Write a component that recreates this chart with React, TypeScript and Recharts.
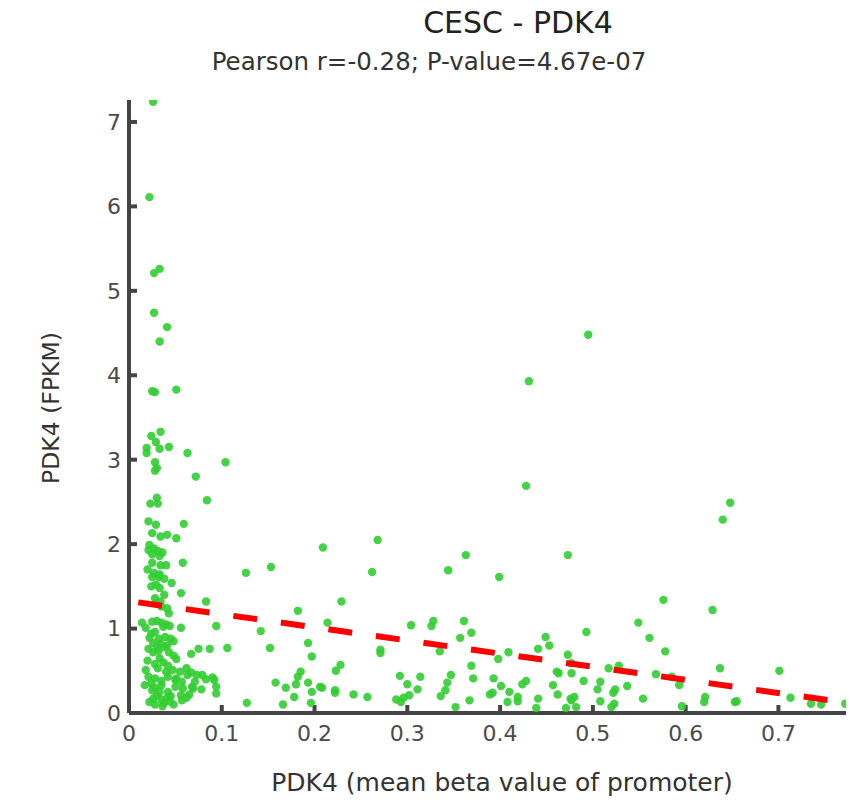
import { ScatterChart, Scatter, XAxis, YAxis } from "recharts";

const title = "CESC - PDK4";
const subtitle = "Pearson r=-0.28; P-value=4.67e-07";
const xLabel = "PDK4 (mean beta value of promoter)";
const yLabel = "PDK4 (FPKM)";

const xTicks = [0, 0.1, 0.2, 0.3, 0.4, 0.5, 0.6, 0.7];
const yTicks = [0, 1, 2, 3, 4, 5, 6, 7];

// [mean beta value, FPKM]
const leftTop = [
  [0.026, 7.24], [0.022, 6.11], [0.027, 5.21], [0.033, 5.26], [0.027, 4.74],
  [0.041, 4.57], [0.033, 4.4], [0.028, 3.8], [0.025, 3.81], [0.051, 3.83],
];

const leftMid = [
  [0.034, 3.33], [0.024, 3.28], [0.029, 3.21], [0.019, 3.14], [0.019, 3.08],
  [0.033, 3.13], [0.043, 3.15], [0.063, 3.08], [0.104, 2.97], [0.028, 2.97],
  [0.03, 2.9], [0.028, 2.87], [0.072, 2.8], [0.03, 2.55], [0.023, 2.48],
  [0.031, 2.48], [0.084, 2.52], [0.021, 2.27], [0.059, 2.24], [0.029, 2.23],
  [0.025, 2.13], [0.034, 2.09], [0.041, 2.11], [0.051, 2.07], [0.022, 1.99],
  [0.027, 1.95], [0.031, 1.92], [0.036, 1.9], [0.025, 1.88], [0.033, 1.86],
  [0.021, 1.93], [0.058, 1.78], [0.025, 1.78], [0.034, 1.75], [0.04, 1.75],
  [0.02, 1.7], [0.027, 1.66], [0.033, 1.64], [0.025, 1.61], [0.032, 1.61],
  [0.038, 1.59], [0.046, 1.54], [0.024, 1.5], [0.029, 1.52], [0.033, 1.48],
  [0.056, 1.42], [0.028, 1.36], [0.038, 1.4], [0.029, 1.3], [0.034, 1.32],
  [0.041, 1.24], [0.043, 1.18], [0.035, 1.26], [0.083, 1.32], [0.126, 1.66],
  [0.153, 1.73],
];

const leftLow = [
  [0.014, 1.07], [0.018, 1.01], [0.025, 1.08], [0.03, 1.09], [0.035, 1.07],
  [0.037, 1.02], [0.04, 1.05], [0.044, 1.03], [0.024, 0.94], [0.028, 0.96],
  [0.022, 0.89], [0.032, 0.88], [0.039, 0.9], [0.045, 0.88], [0.026, 0.83],
  [0.034, 0.82], [0.041, 0.8], [0.03, 0.78], [0.038, 0.78], [0.048, 0.85],
  [0.021, 0.76], [0.026, 0.72], [0.032, 0.74], [0.043, 0.72], [0.048, 0.68],
  [0.02, 0.62], [0.028, 0.58], [0.037, 0.6], [0.042, 0.56], [0.051, 0.64],
  [0.033, 0.65], [0.018, 0.51], [0.031, 0.53], [0.04, 0.49], [0.047, 0.51],
  [0.055, 0.49], [0.062, 0.53], [0.021, 0.43], [0.028, 0.41], [0.042, 0.43],
  [0.051, 0.41], [0.063, 0.45], [0.073, 0.45], [0.035, 0.38], [0.017, 0.33],
  [0.024, 0.35], [0.035, 0.33], [0.05, 0.39], [0.057, 0.37], [0.071, 0.37],
  [0.083, 0.4], [0.09, 0.42], [0.094, 0.31], [0.028, 0.3], [0.025, 0.27],
  [0.033, 0.25], [0.042, 0.25], [0.05, 0.31], [0.058, 0.29], [0.069, 0.29],
  [0.078, 0.28], [0.094, 0.23], [0.03, 0.2], [0.045, 0.2], [0.026, 0.17],
  [0.035, 0.16], [0.042, 0.19], [0.056, 0.21], [0.028, 0.1], [0.038, 0.12],
  [0.048, 0.1], [0.036, 0.08], [0.044, 0.14], [0.022, 0.13], [0.079, 0.45],
  [0.092, 0.39], [0.067, 0.48], [0.068, 0.31], [0.065, 0.22], [0.062, 0.18],
  [0.057, 0.15], [0.094, 1.03], [0.056, 1.01], [0.067, 0.7], [0.075, 0.76],
  [0.087, 0.76], [0.106, 0.77], [0.142, 0.97], [0.152, 0.77], [0.127, 0.12],
  [0.158, 0.36], [0.169, 0.3], [0.166, 0.1], [0.178, 0.19],
];

const middle = [
  [0.209, 1.96], [0.268, 2.05], [0.262, 1.67], [0.182, 1.21], [0.229, 1.32],
  [0.214, 1.07], [0.193, 0.83], [0.197, 0.67], [0.228, 0.57], [0.223, 0.5],
  [0.18, 0.34], [0.182, 0.43], [0.185, 0.49], [0.193, 0.36], [0.197, 0.25],
  [0.196, 0.12], [0.206, 0.31], [0.208, 0.3], [0.222, 0.27], [0.222, 0.24],
  [0.242, 0.22], [0.257, 0.19], [0.271, 0.75], [0.271, 0.71], [0.292, 0.44],
  [0.3, 0.34], [0.314, 0.43], [0.311, 0.28], [0.302, 0.21], [0.288, 0.16],
  [0.293, 0.13], [0.296, 0.18], [0.304, 1.04], [0.326, 1.03], [0.328, 1.09],
  [0.344, 1.69], [0.363, 1.87], [0.361, 1.09], [0.357, 0.89], [0.369, 0.95],
  [0.335, 0.73], [0.399, 1.61], [0.369, 0.56], [0.371, 0.41], [0.347, 0.45],
  [0.343, 0.36], [0.341, 0.27], [0.336, 0.2], [0.352, 0.07], [0.367, 0.15],
  [0.393, 0.41], [0.401, 0.32], [0.389, 0.22], [0.392, 0.24], [0.398, 0.64],
  [0.409, 0.72], [0.41, 0.25], [0.408, 0.13], [0.419, 0.19], [0.419, 0.14],
  [0.428, 0.38], [0.424, 0.34], [0.441, 0.76], [0.449, 0.9], [0.453, 0.8],
  [0.441, 0.17], [0.439, 0.06], [0.457, 0.33], [0.462, 0.22], [0.461, 0.49],
  [0.431, 3.93], [0.428, 2.69],
];

const right = [
  [0.495, 4.48], [0.473, 1.87], [0.648, 2.49], [0.64, 2.29], [0.576, 1.34],
  [0.629, 1.22], [0.549, 1.07], [0.493, 0.96], [0.561, 0.89], [0.578, 0.73],
  [0.473, 0.69], [0.477, 0.59], [0.477, 0.47], [0.463, 0.47], [0.517, 0.53],
  [0.528, 0.56], [0.49, 0.38], [0.508, 0.37], [0.505, 0.28], [0.524, 0.28],
  [0.522, 0.24], [0.537, 0.32], [0.568, 0.46], [0.585, 0.43], [0.593, 0.33],
  [0.637, 0.53], [0.701, 0.5], [0.554, 0.17], [0.508, 0.14], [0.621, 0.19],
  [0.62, 0.13], [0.653, 0.13], [0.655, 0.14], [0.713, 0.18], [0.735, 0.11],
  [0.746, 0.1], [0.772, 0.11], [0.596, 0.08], [0.477, 0.15], [0.48, 0.19],
  [0.476, 0.17], [0.471, 0.06], [0.482, 0.07], [0.523, 0.11], [0.52, 0.07],
];

// regression line end points
const fitLine = [
  [0.01, 1.31],
  [0.775, 0.12],
];

const toPoints = (rows: number[][]) => rows.map(([x, y]) => ({ x, y }));
const samples = toPoints([...leftTop, ...leftMid, ...leftLow, ...middle, ...right]);

const font = "'DejaVu Sans', Verdana, sans-serif";
const W = 846;
const H = 790;

const Dot = (p: any) => (
  <circle cx={p.cx} cy={p.cy} r={4.2} fill="#32cd32" fillOpacity={0.9} />
);

export default function App() {
  return (
    <div style={{ position: "relative", width: W, height: H, background: "#fff" }}>
      <ScatterChart
        width={W}
        height={H}
        margin={{ top: 92, right: 6, bottom: 0, left: 0 }}
      >
        <XAxis
          type="number"
          dataKey="x"
          domain={[0, 0.775]}
          ticks={xTicks}
          allowDataOverflow
          height={85}
          axisLine={{ stroke: "#444", strokeWidth: 4 }}
          tickLine={{ stroke: "#444", strokeWidth: 4 }}
          tickSize={-8}
          tickMargin={20}
          tick={{ fill: "#4a4a4a", fontSize: 22, fontFamily: font }}
        />
        <YAxis
          type="number"
          dataKey="y"
          domain={[0, 7.26]}
          ticks={yTicks}
          allowDataOverflow
          width={121}
          axisLine={{ stroke: "#444", strokeWidth: 4 }}
          tickLine={{ stroke: "#444", strokeWidth: 4 }}
          tickSize={-8}
          tickMargin={16}
          tick={{ fill: "#4a4a4a", fontSize: 22, fontFamily: font }}
        />
        <Scatter
          data={samples}
          shape={Dot}
          isAnimationActive={false}
        />
        <Scatter
          data={toPoints(fitLine)}
          fill="#ff0000"
          line={{ stroke: "#ff0000", strokeWidth: 6, strokeDasharray: "24 24" }}
          shape={() => <g />}
          isAnimationActive={false}
        />
      </ScatterChart>
      <svg
        width={854}
        height={807}
        style={{ position: "absolute", left: -8, top: -8, pointerEvents: "none" }}
        fontFamily={font}
      >
        <text x={518} y={33} textAnchor="middle" fontSize={30} fill="#222">
          {title}
        </text>
        <text x={429} y={70} textAnchor="middle" fontSize={24.5} fill="#333">
          {subtitle}
        </text>
        <text x={502} y={791} textAnchor="middle" fontSize={25} fill="#333">
          {xLabel}
        </text>
        <text
          transform="translate(59,408) rotate(-90)"
          textAnchor="middle"
          fontSize={23.5}
          fill="#333"
        >
          {yLabel}
        </text>
      </svg>
    </div>
  );
}
